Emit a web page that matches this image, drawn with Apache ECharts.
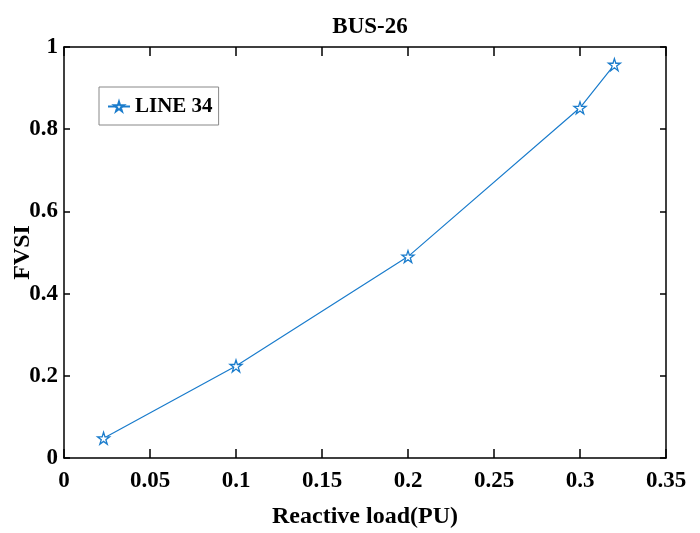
<!DOCTYPE html>
<html lang="en">
<head>
    <meta charset="UTF-8">
    <title>BUS-26</title>
    <style>
        html, body { margin: 0; padding: 0; background: #fff; }
        #main { width: 700px; height: 533px; }
    </style>
</head>
<body>
    <div id="main"></div>
    <script src="https://cdn.jsdelivr.net/npm/echarts@6/dist/echarts.min.js"></script>
    <script>
        // data
        var loadPU = [0.023, 0.1, 0.2, 0.3, 0.32];
        var fvsi = [0.048, 0.224, 0.49, 0.852, 0.957];
        var seriesName = 'LINE 34';

        var pts = [];
        for (var i = 0; i < loadPU.length; i++) {
            pts.push([loadPU[i], fvsi[i]]);
        }

        var star = 'path://M100,0 L122.45,69.1 L195.1,69.1 L136.3,111.8 L158.8,180.9 L100,138.2 L41.2,180.9 L63.7,111.8 L4.9,69.1 L77.55,69.1 Z';
        var font = '"Liberation Serif", "Times New Roman", serif';
        var blue = '#1a7ccc';

        var myChart = echarts.init(document.getElementById('main'));
        var option = {
            backgroundColor: '#fff',
            animation: false,
            title: {
                text: 'BUS-26',
                left: 365,
                top: 11,
                textAlign: 'center',
                textStyle: { fontFamily: font, fontWeight: 'bold', fontSize: 23, color: '#000' }
            },
            legend: {
                left: 99,
                top: 87,
                padding: [9, 6, 8, 8],
                borderColor: '#888',
                borderWidth: 1,
                backgroundColor: '#fff',
                itemWidth: 22,
                itemHeight: 12,
                itemGap: 4,
                textStyle: { fontFamily: font, fontWeight: 'bold', fontSize: 21, color: '#000' },
                data: [seriesName]
            },
            grid: { left: 64, right: 34, top: 47, bottom: 75, outerBoundsMode: 'none', containLabel: false },
            xAxis: [{
                type: 'value',
                min: 0, max: 0.35, interval: 0.05,
                name: 'Reactive load(PU)',
                nameLocation: 'middle',
                nameGap: 47,
                nameMoveOverlap: false,
                nameTextStyle: { fontFamily: font, fontWeight: 'bold', fontSize: 24, color: '#000' },
                axisLine: { onZero: false, lineStyle: { color: '#000', width: 1.5 } },
                axisTick: { inside: true, length: 9, lineStyle: { color: '#000', width: 1.5 } },
                axisLabel: { margin: 12, fontFamily: font, fontWeight: 'bold', fontSize: 23, color: '#000',
                    formatter: function (v) { return +v.toFixed(2) + ''; } },
                splitLine: { show: false }
            }, {
                type: 'value', position: 'top',
                min: 0, max: 0.35, interval: 0.05,
                axisLine: { onZero: false, lineStyle: { color: '#000', width: 1.5 } },
                axisTick: { inside: true, length: 9, lineStyle: { color: '#000', width: 1.5 } },
                axisLabel: { show: false },
                splitLine: { show: false }
            }],
            yAxis: [{
                type: 'value',
                min: 0, max: 1, interval: 0.2,
                name: 'FVSI',
                nameLocation: 'middle',
                nameGap: 29,
                nameMoveOverlap: false,
                nameTextStyle: { fontFamily: font, fontWeight: 'bold', fontSize: 24, color: '#000' },
                axisLine: { show: true, onZero: false, lineStyle: { color: '#000', width: 1.5 } },
                axisTick: { show: true, inside: true, length: 6, lineStyle: { color: '#000', width: 1.5 } },
                axisLabel: { margin: 6, fontFamily: font, fontWeight: 'bold', fontSize: 23, color: '#000',
                    formatter: function (v) { return +v.toFixed(1) + ''; } },
                splitLine: { show: false }
            }, {
                type: 'value', position: 'right',
                min: 0, max: 1, interval: 0.2,
                axisLine: { show: true, onZero: false, lineStyle: { color: '#000', width: 1.5 } },
                axisTick: { show: true, inside: true, length: 6, lineStyle: { color: '#000', width: 1.5 } },
                axisLabel: { show: false },
                splitLine: { show: false }
            }],
            series: [{
                name: seriesName,
                type: 'line',
                data: pts,
                symbol: star,
                symbolSize: 12,
                showAllSymbol: true,
                lineStyle: { color: blue, width: 1.2 },
                itemStyle: { color: '#fff', borderColor: blue, borderWidth: 1.3 }
            }]
        };
        myChart.setOption(option);
    </script>
</body>
</html>
